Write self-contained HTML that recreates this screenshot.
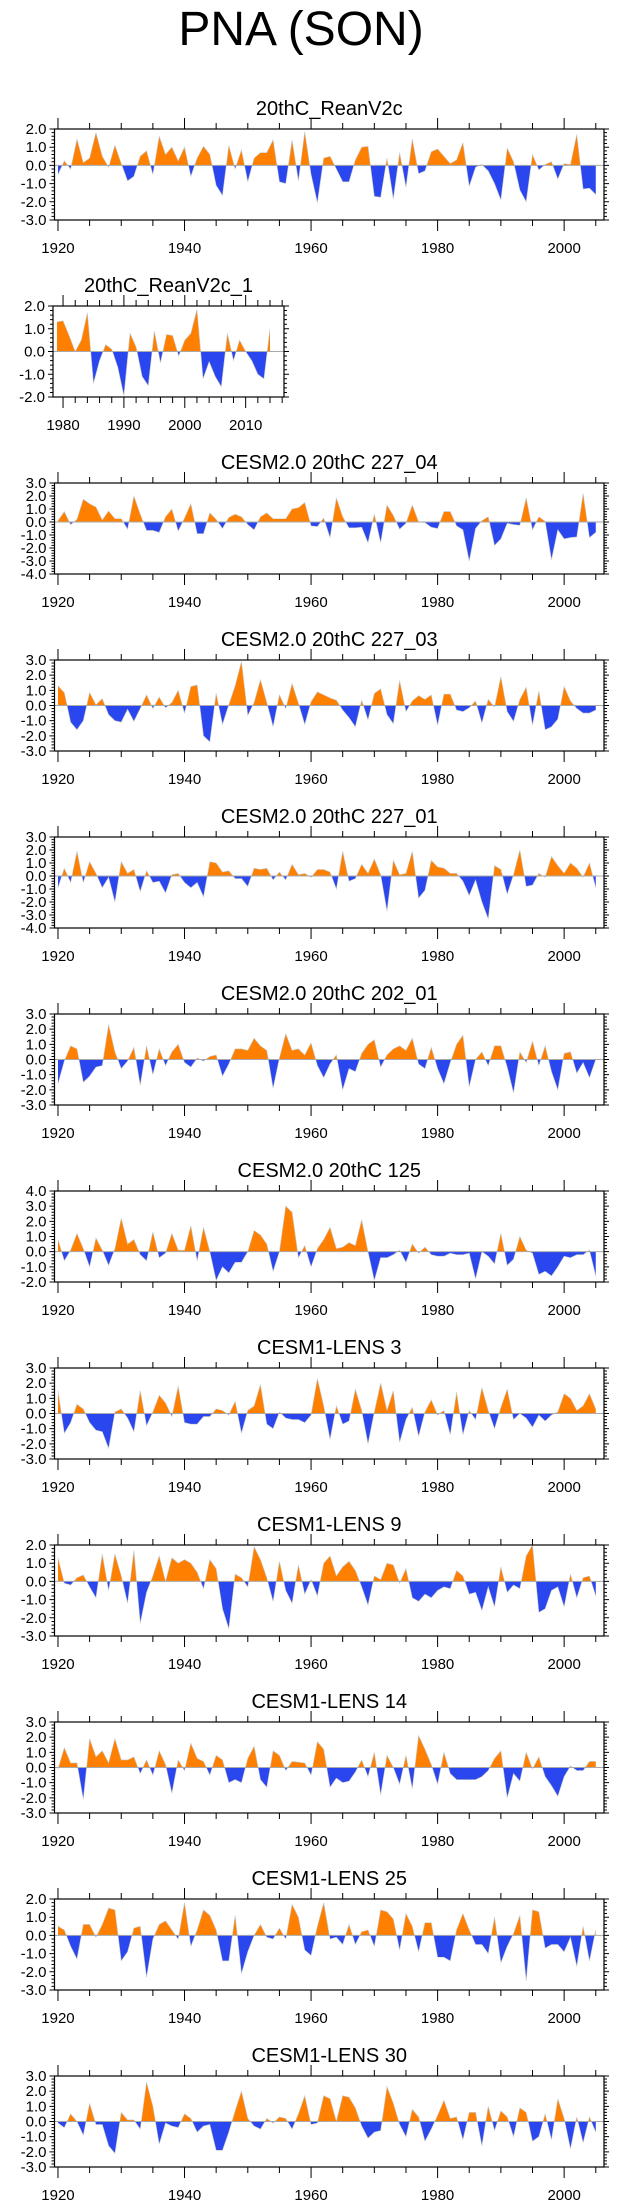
<!DOCTYPE html>
<html><head><meta charset="utf-8"><title>PNA (SON)</title>
<style>
html,body{margin:0;padding:0;background:#fff;}
svg{display:block;font-family:"Liberation Sans",Arial,sans-serif;}
</style></head>
<body>
<svg id="chart" width="623" height="2209" viewBox="0 0 623 2209" xmlns="http://www.w3.org/2000/svg">
<text x="301" y="45" font-size="48" text-anchor="middle" fill="#000">PNA (SON)</text>
</svg>
<script>
const panelTitles = ["20thC_ReanV2c","20thC_ReanV2c_1","CESM2.0 20thC 227_04","CESM2.0 20thC 227_03","CESM2.0 20thC 227_01","CESM2.0 20thC 202_01","CESM2.0 20thC 125","CESM1-LENS 3","CESM1-LENS 9","CESM1-LENS 14","CESM1-LENS 25","CESM1-LENS 30"];
const panelStartYears = [1920,1979,1920,1920,1920,1920,1920,1920,1920,1920,1920,1920];
const panelYMin = [-3,-2,-4,-3,-4,-3,-2,-3,-3,-3,-3,-3];
const panelYMax = [2,2,3,3,3,3,4,3,2,3,2,3];
const xTicksMain = [1920,1940,1960,1980,2000];
const xTicksShort = [1980,1990,2000,2010];

const seriesReanV2c = [-0.5,0.25,-0.2,1.45,0.15,0.4,1.8,0.5,-0.1,1.1,0.1,-0.85,-0.6,0.5,0.8,-0.5,1.6,0.6,1.0,0.25,1.0,-0.6,0.4,1.05,0.6,-1.1,-1.65,1.1,-0.2,0.85,-0.9,0.4,0.7,0.7,1.4,-0.9,-1.0,1.4,-0.85,1.85,-0.5,-2.05,0.4,0.5,-0.2,-0.9,-0.9,0.3,1.0,1.05,-1.7,-1.75,0.4,-1.85,0.7,-1.2,1.45,-0.45,-0.3,0.75,0.9,0.5,0.1,0.3,1.25,-1.15,-0.1,0.05,-0.3,-1.0,-1.9,0.95,0.2,-1.35,-2.0,0.6,-0.25,0.05,0.2,-0.75,0.1,0.05,1.7,-1.3,-1.25,-1.6];
const seriesReanV2c1 = [1.3,1.35,0.7,0.0,0.5,1.7,-1.4,-0.4,0.3,0.1,-0.7,-1.95,0.8,0.2,-1.1,-1.5,0.9,-0.5,0.75,0.7,-0.2,0.5,0.8,1.85,-1.2,-0.45,-1.1,-1.55,0.8,-0.4,0.5,0.0,-0.4,-1.0,-1.2,1.0];
const series227_04 = [0.1,0.8,-0.2,0.2,1.75,1.4,1.15,0.15,0.85,0.25,0.25,-0.55,2.0,0.6,-0.65,-0.65,-0.8,0.4,1.0,-0.7,0.3,1.4,-0.9,-0.9,0.7,0.2,-0.5,0.35,0.6,0.4,-0.2,-0.6,0.4,0.7,0.25,0.25,0.25,1.0,1.1,1.5,-0.3,-0.35,0.3,-1.2,1.85,0.4,-0.45,-0.45,-0.4,-1.6,0.6,-1.6,1.3,0.5,-0.55,-0.1,1.3,0.0,-0.05,-0.4,-0.5,0.8,0.8,-0.3,-0.6,-3.0,-0.5,0.1,0.4,-1.8,-1.3,-0.1,-0.2,-0.25,1.85,-0.6,0.4,0.05,-2.9,-0.6,-1.3,-1.2,-1.15,2.2,-1.2,-0.8];
const series227_03 = [1.3,0.85,-1.1,-1.6,-1.0,0.85,0.05,0.45,-0.6,-1.0,-1.1,-0.25,-1.05,-0.2,0.7,-0.2,0.55,-0.15,0.2,1.0,-0.5,1.25,1.35,-2.0,-2.4,0.8,-1.25,0.05,1.3,2.9,-0.65,0.2,1.7,0.2,-1.4,0.7,-0.2,1.45,0.15,-1.25,0.25,0.9,0.7,0.5,0.35,-0.3,-0.8,-1.4,0.35,-0.95,0.8,1.1,-0.6,-1.2,1.65,-0.4,0.3,0.65,0.4,0.7,-1.3,0.75,0.75,-0.3,-0.4,-0.15,0.3,-1.15,0.4,-0.1,1.9,-0.4,-1.05,0.4,1.2,-1.3,0.95,-1.6,-1.4,-0.9,1.25,0.3,-0.2,-0.5,-0.5,-0.3];
const series227_01 = [-0.9,0.6,-0.5,1.9,-0.5,1.1,0.2,-0.9,-0.1,-2.0,1.1,0.2,0.5,-1.2,0.4,-0.5,-0.4,-1.3,0.1,0.2,-0.5,-0.9,-0.5,-1.6,1.1,1.0,0.3,0.4,-0.2,-0.2,-0.8,0.6,0.5,0.6,-0.3,0.3,-0.3,0.9,0.1,0.2,-0.1,0.5,0.5,0.3,-1.0,1.9,-0.4,-0.2,0.9,0.2,1.3,0.1,-2.7,1.2,0.1,0.2,1.9,-1.7,-1.1,1.2,0.7,0.6,0.2,0.2,-0.4,-1.5,-0.3,-2.0,-3.3,0.8,0.5,-1.4,0.1,2.0,-0.8,-0.7,0.2,-0.1,1.5,0.8,0.2,1.0,0.6,-0.1,1.0,-0.9];
const series202_01 = [-1.6,-0.1,0.9,0.7,-1.5,-1.1,-0.5,-0.4,2.3,0.5,-0.6,-0.1,0.8,-1.7,0.9,-1.0,0.7,-0.4,0.5,1.0,-0.2,-0.5,0.1,-0.1,0.2,0.3,-1.1,-0.3,0.7,0.7,0.6,1.4,0.9,0.6,-1.9,0.1,1.7,0.6,0.7,0.3,1.1,-0.4,-1.2,-0.3,0.3,-2.0,-0.6,-0.8,0.4,1.0,1.3,-0.5,0.3,0.7,0.9,0.6,1.4,-0.3,-0.6,0.8,-0.6,-1.6,-0.2,1.0,1.6,-1.8,0.0,0.5,-0.4,0.9,0.9,-0.5,-2.2,0.5,-0.2,1.2,-0.4,0.9,-0.8,-2.0,0.4,0.5,-0.9,-0.2,-1.2,0.0];
const series125 = [0.8,-0.6,0.1,1.2,0.2,-1.0,0.9,0.1,-0.9,0.2,2.2,0.5,0.8,-0.2,-0.6,1.3,-0.4,-0.1,1.2,0.1,0.1,1.7,-0.6,1.6,0.0,-1.9,-1.0,-1.4,-0.7,-0.7,0.0,1.4,1.1,0.5,-1.3,0.0,3.0,2.6,-0.4,0.4,-1.0,0.2,0.8,1.6,0.2,0.3,0.6,0.4,2.1,0.0,-1.9,-0.4,-0.4,-0.2,0.1,-0.7,0.5,-0.1,0.3,-0.2,-0.3,-0.3,-0.1,-0.2,-0.2,-0.1,-1.8,0.0,-0.3,-0.8,1.2,-0.9,-0.5,1.0,0.1,-0.1,-1.5,-1.3,-1.6,-1.0,-0.3,-0.4,-0.2,-0.2,0.1,-1.6];
const seriesLens3 = [1.5,-1.3,-0.6,0.6,0.3,-0.6,-1.1,-1.2,-2.3,0.1,0.3,-0.3,-1.2,1.5,-0.8,0.1,1.2,0.7,-0.2,1.8,-0.6,-0.7,-0.7,-0.2,-0.2,0.3,0.2,-0.1,0.8,-1.3,0.2,0.5,1.9,-0.7,-1.0,0.1,-0.3,-0.4,-0.4,-0.6,-0.1,2.3,0.5,-1.7,0.5,-0.7,-0.5,1.6,0.2,-2.0,0.1,2.0,0.2,1.5,-1.9,-0.4,0.4,-1.5,0.1,0.9,-0.1,0.2,-1.4,1.4,-1.4,0.2,-0.4,1.7,0.2,-1.0,0.4,1.6,-0.4,0.0,-0.3,-0.9,-0.1,-0.5,-0.1,0.1,1.3,1.0,0.2,0.5,1.3,0.3];
const seriesLens9 = [1.3,-0.1,-0.2,0.2,0.35,-0.3,-0.9,1.5,-0.5,1.5,0.3,-1.2,1.7,-2.3,-0.6,0.3,1.4,0.0,1.3,1.0,1.2,1.0,0.5,-0.4,1.2,0.7,-1.5,-2.6,0.4,0.2,-0.3,1.9,1.2,0.2,-1.1,1.1,-0.5,-1.2,0.9,-0.7,0.1,-0.8,1.0,1.4,0.3,0.8,1.1,0.6,-0.3,-1.3,0.3,0.1,1.0,0.9,-0.1,0.7,-0.9,-1.1,-0.7,-0.9,-0.5,-0.3,-0.4,0.6,0.3,-0.7,-0.6,-1.6,-0.3,-1.4,0.8,-0.6,-0.2,-0.4,1.4,2.0,-1.7,-1.5,-0.5,-0.3,-1.4,0.4,-0.9,0.2,0.3,-0.8];
const seriesLens14 = [-0.1,1.3,0.3,0.3,-2.1,1.9,0.7,1.1,0.3,1.9,0.5,0.5,0.7,-0.4,0.5,-0.5,1.1,0.2,-1.7,0.5,-0.2,1.6,0.6,0.4,-0.5,0.8,0.5,-1.0,-0.8,-1.0,0.6,1.4,-0.8,-1.3,1.1,0.8,-0.2,0.4,0.35,0.3,-0.5,1.7,1.2,-1.3,-0.7,-1.0,-0.9,-0.3,0.5,-0.6,1.0,-1.8,0.8,0.0,-1.1,0.8,-1.4,2.1,1.2,0.2,-1.1,1.0,-0.4,-0.8,-0.8,-0.8,-0.8,-0.6,-0.2,0.6,1.1,-2.0,-0.4,-0.9,1.0,-0.1,0.7,-0.6,-1.2,-1.9,-0.6,0.1,-0.2,-0.2,0.4,0.4];
const seriesLens25 = [0.5,0.3,-0.6,-1.3,0.6,0.6,-0.1,0.6,1.5,1.4,-1.4,-0.9,0.4,0.5,-2.3,-0.2,0.6,0.8,0.3,-0.2,1.8,-0.6,0.3,1.4,1.1,0.3,-1.4,-1.4,1.1,-2.1,-0.9,0.0,0.6,-0.1,-0.2,0.4,-0.2,1.7,1.0,-0.8,-1.1,0.5,1.8,-0.2,-0.1,-0.5,0.6,-0.5,0.2,0.3,-0.6,1.4,1.3,0.9,-0.8,1.2,0.5,-0.9,0.7,0.7,-1.2,-1.2,-1.4,0.3,1.2,0.3,-0.5,-0.5,-1.0,1.0,-1.5,-0.6,0.1,1.1,-2.5,1.4,1.3,-0.7,-0.5,-0.5,-0.9,-0.1,-1.7,0.5,-1.4,0.3];
const seriesLens30 = [-0.1,-0.4,0.5,0.0,-0.9,1.2,-0.2,-0.2,-1.6,-2.1,0.6,0.1,0.1,-0.5,2.6,1.0,-1.5,-0.1,-0.3,-0.4,0.5,0.2,-0.7,-0.3,-0.2,-1.9,-1.9,-0.7,0.7,2.0,0.2,-0.3,-0.5,0.2,-0.1,0.3,0.2,-0.5,0.5,1.7,-0.2,-0.1,1.7,1.5,0.0,1.7,1.6,0.9,-0.3,-1.1,-0.7,-0.6,2.3,1.2,-0.2,-1.0,0.8,0.3,-1.3,-0.5,0.4,1.4,0.2,0.3,-1.2,0.6,0.6,-1.6,1.0,-0.6,0.7,0.3,-1.0,0.9,0.6,-1.3,-1.0,0.5,-1.2,1.5,0.2,-1.8,0.3,-1.4,0.3,-0.7];

const allSeries = [seriesReanV2c,seriesReanV2c1,series227_04,series227_03,series227_01,series202_01,series125,seriesLens3,seriesLens9,seriesLens14,seriesLens25,seriesLens30];

const NS = "http://www.w3.org/2000/svg";
const svg = document.getElementById("chart");
function mk(tag, attrs, parent){
  const e = document.createElementNS(NS, tag);
  for (const k in attrs) e.setAttribute(k, attrs[k]);
  (parent||svg).appendChild(e);
  return e;
}
function slug(s){ return s.toLowerCase().replace(/[^a-z0-9]+/g,'-').replace(/^-|-$/g,''); }

for (let p = 0; p < allSeries.length; p++) {
  const vals = allSeries[p];
  const start = panelStartYears[p];
  const ymin = panelYMin[p], ymax = panelYMax[p];
  const top = 129 + 177 * p, H = 91, bottom = top + H;
  let L, R, xmin, xmax, xt, minorStep;
  if (p === 1) { L = 53; R = 284; xmin = 1978.35; xmax = 2016.3; xt = xTicksShort; minorStep = 2; }
  else { L = 54.5; R = 604; xmin = 1919.45; xmax = 2006.3; xt = xTicksMain; minorStep = 5; }
  const X = y => L + (y - xmin) / (xmax - xmin) * (R - L);
  const Y = v => top + (ymax - v) / (ymax - ymin) * H;

  const g = mk('g', {});
  
  

  const t = mk('text', {x: (L + R) / 2, y: top - 14, 'font-size': 20, 'text-anchor': 'middle', fill: '#000'}, g);
  
  
  t.textContent = panelTitles[p];

  // build points with zero crossings
  const pts = [];
  for (let i = 0; i < vals.length; i++) {
    const yr = start + i, v = vals[i];
    pts.push([yr, v]);
    if (i < vals.length - 1) {
      const w = vals[i + 1];
      if ((v > 0 && w < 0) || (v < 0 && w > 0)) {
        const f = v / (v - w);
        pts.push([yr + f, 0]);
      }
    }
  }
  const x0 = start, x1 = start + vals.length - 1;
  function areaPath(clip) {
    let d = 'M' + X(x0).toFixed(2) + ',' + Y(0).toFixed(2);
    for (const [yr, v] of pts) d += 'L' + X(yr).toFixed(2) + ',' + Y(clip(v)).toFixed(2);
    d += 'L' + X(x1).toFixed(2) + ',' + Y(0).toFixed(2) + 'Z';
    return d;
  }
  const pos = mk('path', {d: areaPath(v => Math.max(v, 0)), fill: '#ff8000', stroke: 'none'}, g);
  
  
  const neg = mk('path', {d: areaPath(v => Math.min(v, 0)), fill: '#2a46ee', stroke: 'none'}, g);
  
  
  let ld = '';
  pts.forEach(([yr, v], i) => { ld += (i ? 'L' : 'M') + X(yr).toFixed(2) + ',' + Y(v).toFixed(2); });
  const ln = mk('path', {d: ld, fill: 'none', stroke: '#c8c8c8', 'stroke-width': 0.6}, g);
  
  

  const zl = mk('line', {x1: L, x2: R, y1: Y(0), y2: Y(0), stroke: '#aaaaaa', 'stroke-width': 1}, g);
  
  

  const box = mk('rect', {x: L, y: top, width: R - L, height: H, fill: 'none', stroke: '#000', 'stroke-width': 1.2}, g);
  
  

  // y ticks
  let tk = '';
  for (let k = Math.round(ymin * 5); k <= Math.round(ymax * 5); k++) {
    const v = k / 5, yy = Y(v).toFixed(2);
    const len = (k % 5 === 0) ? 5 : 3;
    tk += 'M' + (L - len) + ',' + yy + 'H' + L + 'M' + R + ',' + yy + 'H' + (R + len);
  }
  // x ticks
  const yFirst = Math.ceil(xmin / minorStep) * minorStep;
  for (let yr = yFirst; yr <= xmax; yr += minorStep) {
    const major = xt.indexOf(yr) >= 0;
    const len = major ? 11 : 6;
    const xx = X(yr).toFixed(2);
    tk += 'M' + xx + ',' + top + 'V' + (top - len) + 'M' + xx + ',' + bottom + 'V' + (bottom + len);
  }
  const ticks = mk('path', {d: tk, stroke: '#000', 'stroke-width': 1, fill: 'none'}, g);
  
  

  for (let v = ymin; v <= ymax; v++) {
    const lab = mk('text', {x: L - 8, y: Y(v) + 5, 'font-size': 15, 'text-anchor': 'end', fill: '#000'}, g);
    
    
    lab.textContent = v.toFixed(1);
  }
  for (const yr of xt) {
    const lab = mk('text', {x: X(yr), y: bottom + 33, 'font-size': 15, 'text-anchor': 'middle', fill: '#000'}, g);
    
    
    lab.textContent = yr;
  }
}
</script>
</body></html>
